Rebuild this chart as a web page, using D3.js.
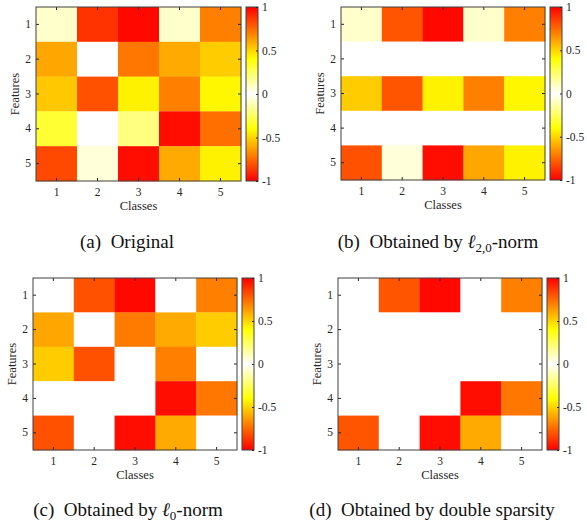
<!DOCTYPE html>
<html>
<head>
<meta charset="utf-8">
<script src="https://cdn.jsdelivr.net/npm/d3@7"></script>
<style>
  body { margin: 0; background: #fff; }
</style>
</head>
<body>
<div id="wrapper"></div>
<script>
// values of the 5x5 matrices (rows = features, cols = classes)
const classes = [1, 2, 3, 4, 5]
const features = [1, 2, 3, 4, 5]
const cbTicks = [1, 0.5, 0, -0.5, -1]

const original = [
  [0.08, 0.88, 0.98, 0.08, 0.70],
  [0.61, 0.00, 0.72, 0.60, 0.52],
  [0.53, 0.81, 0.43, 0.70, 0.42],
  [0.32, 0.00, 0.20, 0.97, 0.74],
  [0.83, 0.06, 0.97, 0.60, 0.43]
]
const l20 = [
  [0.08, 0.80, 0.98, 0.08, 0.70],
  [0, 0, 0, 0, 0],
  [0.52, 0.80, 0.43, 0.70, 0.42],
  [0, 0, 0, 0, 0],
  [0.81, 0.06, 0.97, 0.61, 0.43]
]
const l0 = [
  [0, 0.81, 0.98, 0, 0.70],
  [0.61, 0, 0.71, 0.60, 0.52],
  [0.52, 0.81, 0, 0.70, 0],
  [0, 0, 0, 0.97, 0.72],
  [0.81, 0, 0.97, 0.60, 0]
]
const doubleSparse = [
  [0, 0.80, 0.98, 0, 0.70],
  [0, 0, 0, 0, 0],
  [0, 0, 0, 0, 0],
  [0, 0, 0, 0.97, 0.72],
  [0.80, 0, 0.97, 0.60, 0]
]

const serif = "Liberation Serif"

// symmetric colormap: white at 0, yellow at |v|=0.4, red at |v|=1
const colorOf = v => {
  const a = Math.min(1, Math.abs(v))
  if (a <= 0.4) return d3.rgb(255, 255, 255 * (1 - a / 0.4)) + ""
  return d3.rgb(255, 255 * (1 - (a - 0.4) / 0.6), 0) + ""
}

const panels = [
  { data: original, x0: 36, x1: 241, y0: 7, y1: 181, cb: 246, cap: { x: 127, y: 248, label: "(a)", text: "Original" } },
  { data: l20, x0: 341, x1: 545, y0: 7, y1: 180, cb: 550, cap: { x: 438, y: 248, label: "(b)", text: "Obtained by ", sub: "2,0", after: "-norm" } },
  { data: l0, x0: 33, x1: 237, y0: 278, y1: 450, cb: 242, cap: { x: 128, y: 516, label: "(c)", text: "Obtained by ", sub: "0", after: "-norm" } },
  { data: doubleSparse, x0: 338, x1: 542, y0: 278, y1: 450, cb: 547, cap: { x: 432, y: 516, label: "(d)", text: "Obtained by double sparsity" } }
]

const svg = d3.select("#wrapper").append("svg")
  .attr("width", 587)
  .attr("height", 522)

const defs = svg.append("defs")
const grad = defs.append("linearGradient")
  .attr("id", "cmap")
  .attr("x1", 0).attr("y1", 1).attr("x2", 0).attr("y2", 0)
d3.range(-1, 1.0001, 0.05).forEach(v => {
  grad.append("stop")
    .attr("offset", (v + 1) / 2)
    .attr("stop-color", colorOf(v))
})

panels.forEach(p => {
  const g = svg.append("g")

  const xScale = d3.scaleBand().domain(classes).range([p.x0, p.x1])
  const yScale = d3.scaleBand().domain(features).range([p.y0, p.y1])

  const cells = []
  p.data.forEach((row, i) => row.forEach((v, j) => cells.push({ f: features[i], c: classes[j], v })))

  g.selectAll("rect.cell")
    .data(cells)
    .join("rect")
    .attr("class", "cell")
    .attr("x", d => xScale(d.c))
    .attr("y", d => yScale(d.f))
    .attr("width", xScale.bandwidth() + 0.3)
    .attr("height", yScale.bandwidth() + 0.3)
    .attr("fill", d => colorOf(d.v))

  // axes, ticks point inward
  const styleAxis = sel => {
    sel.attr("font-family", serif).attr("font-size", 11.5)
    sel.select(".domain").remove()
    sel.selectAll("line").attr("stroke", "#262626")
    sel.selectAll("text").attr("fill", "#262626")
  }
  g.append("g").attr("transform", `translate(${p.x0},0)`)
    .call(d3.axisLeft(yScale).tickSize(-3).tickPadding(5))
    .call(styleAxis)
  g.append("g").attr("transform", `translate(0,${p.y1})`)
    .call(d3.axisBottom(xScale).tickSize(-3).tickPadding(7))
    .call(styleAxis)
  g.append("g").attr("transform", `translate(${p.x1},0)`)
    .call(d3.axisRight(yScale).tickSize(-3).tickFormat(""))
    .call(styleAxis)
  g.append("g").attr("transform", `translate(0,${p.y0})`)
    .call(d3.axisTop(xScale).tickSize(-3).tickFormat(""))
    .call(styleAxis)

  g.append("rect")
    .attr("x", p.x0).attr("y", p.y0)
    .attr("width", p.x1 - p.x0).attr("height", p.y1 - p.y0)
    .attr("fill", "none")
    .attr("stroke", "#404040")
    .attr("stroke-width", 1)

  g.append("text")
    .attr("transform", `translate(${p.x0 - 17},${(p.y0 + p.y1) / 2}) rotate(-90)`)
    .attr("text-anchor", "middle")
    .attr("font-family", serif)
    .attr("font-size", 12.5)
    .attr("fill", "#262626")
    .text("Features")

  g.append("text")
    .attr("x", (p.x0 + p.x1) / 2)
    .attr("y", p.y1 + 29)
    .attr("text-anchor", "middle")
    .attr("font-family", serif)
    .attr("font-size", 12.5)
    .attr("fill", "#262626")
    .text("Classes")

  // colorbar
  const cbW = 12
  const cScale = d3.scaleLinear().domain([-1, 1]).range([p.y1, p.y0])
  g.append("rect")
    .attr("x", p.cb).attr("y", p.y0)
    .attr("width", cbW).attr("height", p.y1 - p.y0)
    .attr("fill", "url(#cmap)")
    .attr("stroke", "#404040")
    .attr("stroke-width", 1)
  g.append("g").attr("transform", `translate(${p.cb + cbW},0)`)
    .call(d3.axisRight(cScale).tickValues(cbTicks).tickSize(-2).tickPadding(4).tickFormat(d => String(d)))
    .call(styleAxis)

  // caption
  const cap = svg.append("text")
    .attr("x", p.cap.x)
    .attr("y", p.cap.y)
    .attr("text-anchor", "middle")
    .attr("font-family", serif)
    .attr("font-size", 19)
    .attr("fill", "#111")
  cap.append("tspan").text(p.cap.label + "\u2002")
  cap.append("tspan").text(p.cap.text)
  if (p.cap.sub) {
    cap.append("tspan").text("\u2113").attr("font-style", "italic")
    cap.append("tspan").text(p.cap.sub).attr("font-size", 13).attr("dy", 4)
    cap.append("tspan").text(p.cap.after).attr("dy", -4)
  }
})
</script>
</body>
</html>
